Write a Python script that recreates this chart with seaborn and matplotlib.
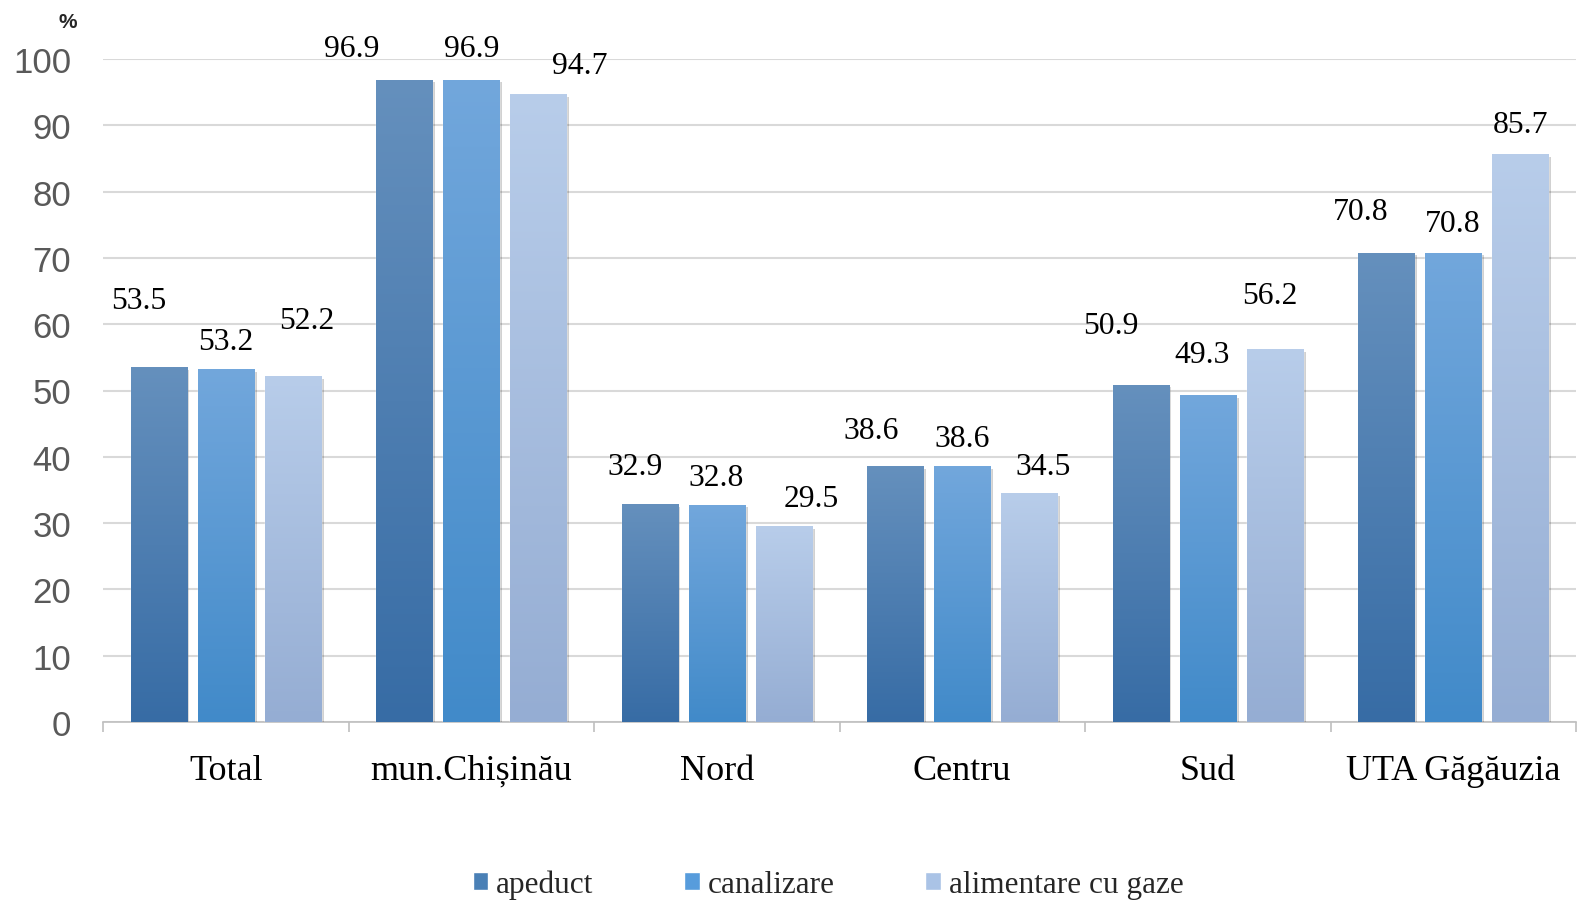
import matplotlib
matplotlib.use("Agg")
import matplotlib.pyplot as plt  # noqa: E402
import matplotlib.patheffects as pe  # noqa: E402
from matplotlib.colors import LinearSegmentedColormap  # noqa: E402
import numpy as np  # noqa: E402
import pandas as pd  # noqa: E402
import seaborn as sns  # noqa: E402

# ── data ──────────────────────────────────────────────────────────────────────
regions = ["Total", "mun.Chișinău", "Nord", "Centru", "Sud", "UTA Găgăuzia"]
series = ["apeduct", "canalizare", "alimentare cu gaze"]
apeduct = [53.5, 96.9, 32.9, 38.6, 50.9, 70.8]
canalizare = [53.2, 96.9, 32.8, 38.6, 49.3, 70.8]
gaze = [52.2, 94.7, 29.5, 34.5, 56.2, 85.7]
yticks = list(range(0, 101, 10))

# ── style ─────────────────────────────────────────────────────────────────────
# bar gradient (bottom, mid, top) per series
GRAD = {
    "apeduct": ("#376ca5", "#4a80b6", "#6590bd"),
    "canalizare": ("#418ac9", "#579cdc", "#72a7dc"),
    "alimentare cu gaze": ("#95add3", "#aac3e6", "#b8cdea"),
}
# the source places value labels by hand: (dx, up) in pixels from bar top
LABEL_NUDGE = [
    [(-20, 67), (0, 28), (14, 55)],
    [(-52, 31), (0, 31), (41, 29)],
    [(-15, 37), (-1, 27), (27, 28)],
    [(-24, 36), (0, 28), (14, 27)],
    [(-30, 59), (-6, 41), (-5, 54)],
    [(-25, 41), (-1, 29), (0, 29)],
]
SERIF = "Liberation Serif"
SANS = "Liberation Sans"

sns.set_theme(style="white")
plt.rcParams["font.family"] = [SERIF, "DejaVu Serif"]

df = pd.DataFrame({"regiune": regions * 3,
                   "serie": np.repeat(series, len(regions)),
                   "valoare": apeduct + canalizare + gaze})

fig = plt.figure(figsize=(15.83, 9.12), dpi=100)
ax = fig.add_axes([103 / 1583, 1 - 723 / 912, (1576 - 103) / 1583, (723 - 60) / 912])

sns.barplot(data=df, x="regiune", y="valoare", hue="serie", order=regions,
            hue_order=series, palette=[GRAD[s][1] for s in series],
            width=0.82, gap=0.165, errorbar=None, legend=False, ax=ax,
            saturation=1, zorder=3)

grad = np.linspace(0, 1, 256).reshape(-1, 1)
shadow = [pe.SimplePatchShadow(offset=(2, -2), shadow_rgbFace="#000000", alpha=0.18),
          pe.Normal()]
for j, (s, cont) in enumerate(zip(series, ax.containers)):
    cmap = LinearSegmentedColormap.from_list(s, [GRAD[s][0], GRAD[s][2]])
    for i, bar in enumerate(cont):
        bar.set_path_effects(shadow)
        x0, w, h = bar.get_x(), bar.get_width(), bar.get_height()
        im = ax.imshow(grad, extent=[x0, x0 + w, 0, h], origin="lower",
                       aspect="auto", cmap=cmap, zorder=3.5)
        im.set_clip_path(bar)
        dx, up = LABEL_NUDGE[i][j]
        ax.annotate(f"{h:.1f}", (x0 + w / 2, h), xytext=(dx, up),
                    textcoords="offset pixels", ha="center", va="center",
                    fontsize=22.8, color="black", annotation_clip=False, zorder=5)

ax.set_xlim(-0.5, len(regions) - 0.5)
ax.set_ylim(0, 100)
ax.set_yticks(yticks)
ax.set_yticklabels([str(t) for t in yticks], family=SANS, fontsize=25,
                   color="#595959")
ax.set_xticks(range(len(regions)))
ax.set_xticklabels(regions, fontsize=26, color="black")
ax.set_xticks(np.arange(-0.5, len(regions), 1), minor=True)
ax.tick_params(axis="x", which="major", length=0, pad=23)
ax.tick_params(axis="x", which="minor", length=7.5, width=1.2, color="#bfbfbf",
               direction="out", bottom=True)
ax.tick_params(axis="y", length=0, pad=23)
ax.grid(axis="y", color="#d9d9d9", lw=1.5, zorder=0)
ax.set_axisbelow(True)
for side in ("left", "right", "top"):
    ax.spines[side].set_visible(False)
ax.spines["bottom"].set_color("#bfbfbf")
ax.spines["bottom"].set_linewidth(1.2)
ax.set_xlabel("")
ax.set_ylabel("")

fig.text(68 / 1583, 1 - 22 / 912, "%", family=SANS, fontsize=15,
         fontweight="bold", ha="center", va="center")

handles = [plt.Rectangle((0, 0), 1, 1, fc=GRAD[s][1]) for s in series]
fig.legend(handles, series, loc="center", bbox_to_anchor=(0.523, 0.029), ncol=3,
           frameon=False, fontsize=22.5, handlelength=0.5, handleheight=0.5,
           handletextpad=0.25, columnspacing=2.9)

fig.savefig("out.png", dpi=100)
